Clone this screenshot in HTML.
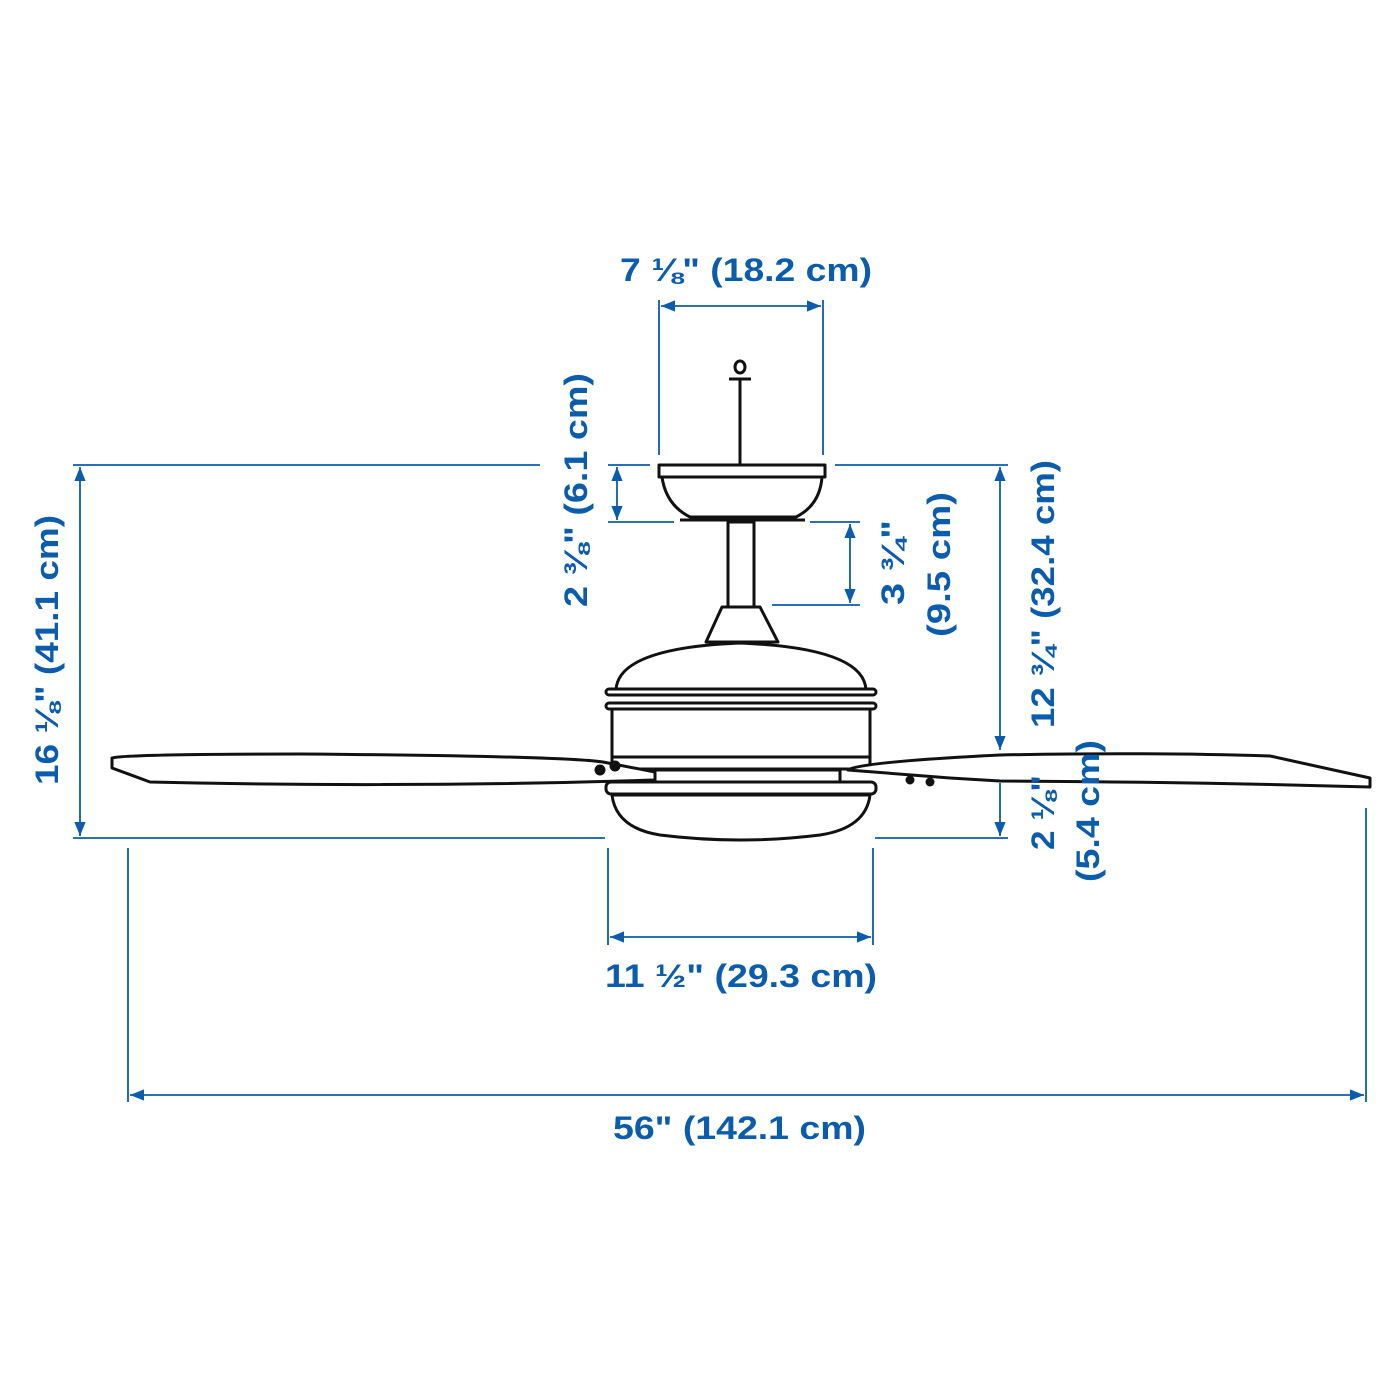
<!DOCTYPE html>
<html><head><meta charset="utf-8"><style>
html,body{margin:0;padding:0;background:#fff}
svg{display:block}
text{font-family:"Liberation Sans",sans-serif;font-weight:bold;font-size:32px;fill:#0b5cad}
</style></head><body>
<svg width="1400" height="1400" viewBox="0 0 1400 1400" xmlns="http://www.w3.org/2000/svg">
<defs>
<marker id="a" viewBox="0 0 10 10" refX="10" refY="5" markerWidth="14" markerHeight="14" markerUnits="userSpaceOnUse" orient="auto-start-reverse"><path d="M0,1 L10,5 L0,9 z" fill="#0b5cad"/></marker>
</defs>
<g stroke="#0b5cad" stroke-width="1.8" fill="none">
<line x1="659" y1="300" x2="659" y2="455"/><line x1="823" y1="300" x2="823" y2="455"/>
<line x1="661" y1="306" x2="821" y2="306" marker-start="url(#a)" marker-end="url(#a)"/>
<line x1="73" y1="465" x2="540" y2="465"/><line x1="73" y1="838" x2="605" y2="838"/>
<line x1="80" y1="467" x2="80" y2="836" marker-start="url(#a)" marker-end="url(#a)"/>
<line x1="608" y1="465" x2="650" y2="465"/><line x1="608" y1="522" x2="674" y2="522"/>
<line x1="617" y1="467" x2="617" y2="520" marker-start="url(#a)" marker-end="url(#a)"/>
<line x1="810" y1="522" x2="860" y2="522"/><line x1="772" y1="605" x2="860" y2="605"/>
<line x1="850" y1="524" x2="850" y2="603" marker-start="url(#a)" marker-end="url(#a)"/>
<line x1="835" y1="465" x2="1008" y2="465"/>
<line x1="1000" y1="467" x2="1000" y2="750" marker-start="url(#a)" marker-end="url(#a)"/>
<line x1="875" y1="838" x2="1008" y2="838"/>
<line x1="1000" y1="783" x2="1000" y2="836" marker-end="url(#a)"/>
<line x1="608" y1="848" x2="608" y2="945"/><line x1="873" y1="848" x2="873" y2="945"/>
<line x1="610" y1="937" x2="871" y2="937" marker-start="url(#a)" marker-end="url(#a)"/>
<line x1="128" y1="848" x2="128" y2="1102"/><line x1="1366" y1="808" x2="1366" y2="1102"/>
<line x1="130" y1="1095" x2="1364" y2="1095" marker-start="url(#a)" marker-end="url(#a)"/>
</g>
<g stroke="#111" stroke-width="3" fill="#fff" stroke-linejoin="round">
<line x1="740" y1="378" x2="740" y2="465"/>
<ellipse cx="740" cy="367" rx="5" ry="6"/>
<line x1="729" y1="379" x2="751" y2="379"/>
<path d="M662,477 Q666,505 690,517 L796,517 Q820,505 822,477 Z"/>
<rect x="659" y="465" width="166" height="12"/>
<line x1="680" y1="520" x2="805" y2="520"/>
<rect x="728" y="522" width="26" height="85"/>
<path d="M722,607 L760,607 L778,642 L706,642 Z"/>
<path d="M616,690 Q618,648 740,643 Q864,648 866,690 Z"/>
<rect x="606" y="689" width="270" height="6" rx="3"/>
<rect x="606" y="703" width="270" height="6" rx="3"/>
<rect x="612" y="709" width="258" height="48"/>
<rect x="612" y="757" width="258" height="12"/>
<path d="M612,795 Q616,828 660,835 Q740,845 820,835 Q866,828 870,795 Z"/>
<rect x="606" y="782" width="270" height="12" rx="5"/>
<rect x="640" y="770" width="200" height="12"/>
<path d="M112,758 Q126,754 300,754 Q560,756 603,762 L655,772 L655,780 Q400,788 150,782 L112,768 Z"/>
<path d="M848,770 Q860,762 1000,755 Q1150,752 1270,756 L1370,778 L1370,787 Q1200,782 1000,781 L950,778 Z"/>
<circle cx="600" cy="770" r="4" fill="#111"/><circle cx="615" cy="766" r="4" fill="#111"/><circle cx="910" cy="780" r="3" fill="#111"/><circle cx="930" cy="782" r="3" fill="#111"/>
</g>
<text x="620" y="281" textLength="252" lengthAdjust="spacingAndGlyphs">7 ⅛" (18.2 cm)</text>
<text x="605" y="987" textLength="272" lengthAdjust="spacingAndGlyphs">11 ½" (29.3 cm)</text>
<text x="613" y="1139" textLength="253" lengthAdjust="spacingAndGlyphs">56" (142.1 cm)</text>
<text transform="translate(58,785) rotate(-90)" textLength="270" lengthAdjust="spacingAndGlyphs">16 ⅛" (41.1 cm)</text>
<text transform="translate(587,607) rotate(-90)" textLength="234" lengthAdjust="spacingAndGlyphs">2 ⅜" (6.1 cm)</text>
<text transform="translate(904,605) rotate(-90)" textLength="85" lengthAdjust="spacingAndGlyphs">3 ¾"</text>
<text transform="translate(950,637) rotate(-90)" textLength="145" lengthAdjust="spacingAndGlyphs">(9.5 cm)</text>
<text transform="translate(1054,728) rotate(-90)" textLength="268" lengthAdjust="spacingAndGlyphs">12 ¾" (32.4 cm)</text>
<text transform="translate(1054,850) rotate(-90)" textLength="75" lengthAdjust="spacingAndGlyphs">2 ⅛"</text>
<text transform="translate(1099,882) rotate(-90)" textLength="142" lengthAdjust="spacingAndGlyphs">(5.4 cm)</text>
</svg>
</body></html>
